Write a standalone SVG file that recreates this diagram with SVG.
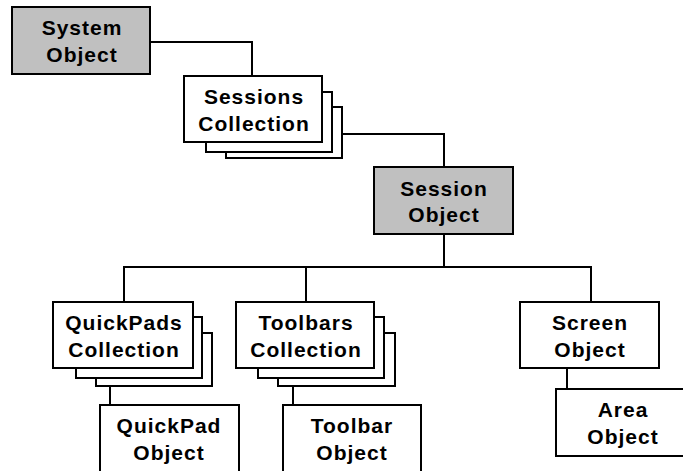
<svg xmlns="http://www.w3.org/2000/svg" width="683" height="471" viewBox="0 0 683 471">
<style>
.box{fill:#fff;stroke:#000;stroke-width:2}
.obj{fill:#c0c0c0;stroke:#000;stroke-width:2}
.conn{fill:none;stroke:#000;stroke-width:2}
text{font-family:"Liberation Sans",Arial,sans-serif;font-weight:bold;font-size:21px;letter-spacing:1px;text-anchor:middle;fill:#000}
</style>
<rect width="683" height="471" fill="#fff"/>
<g id="connectors">
<polyline class="conn" points="150,42 252,42 252,76"/>
<polyline class="conn" points="342,134 444,134 444,167"/>
<line class="conn" x1="444" y1="234" x2="444" y2="267"/>
<polyline class="conn" points="124,302 124,267 591,267 591,302"/>
<line class="conn" x1="306" y1="267" x2="306" y2="302"/>
<line class="conn" x1="110" y1="386" x2="110" y2="405"/>
<line class="conn" x1="293" y1="386" x2="293" y2="405"/>
<line class="conn" x1="567" y1="368" x2="567" y2="389"/>
</g>
<g id="system-object">
<rect class="obj" x="12" y="7" width="138" height="67"/>
<text x="82" y="35">System</text>
<text x="82" y="62">Object</text>
</g>
<g id="sessions-collection">
<rect class="box" x="226" y="107" width="116" height="51"/>
<rect class="box" x="206" y="92" width="126" height="60"/>
<rect class="box" x="184" y="76" width="138" height="66"/>
<text x="254" y="104">Sessions</text>
<text x="254" y="131">Collection</text>
</g>
<g id="session-object">
<rect class="obj" x="374" y="167" width="139" height="67"/>
<text x="444" y="196">Session</text>
<text x="444" y="222">Object</text>
</g>
<g id="quickpads-collection">
<rect class="box" x="96" y="333" width="116" height="53"/>
<rect class="box" x="76" y="317" width="126" height="61"/>
<rect class="box" x="53" y="302" width="140" height="66"/>
<text x="124" y="330">QuickPads</text>
<text x="124" y="357">Collection</text>
</g>
<g id="toolbars-collection">
<rect class="box" x="278" y="333" width="117" height="53"/>
<rect class="box" x="258" y="317" width="126" height="61"/>
<rect class="box" x="236" y="302" width="138" height="66"/>
<text x="306" y="330">Toolbars</text>
<text x="306" y="357">Collection</text>
</g>
<g id="screen-object">
<rect class="box" x="520" y="302" width="139" height="66"/>
<text x="590" y="330">Screen</text>
<text x="590" y="357">Object</text>
</g>
<g id="quickpad-object">
<rect class="box" x="100" y="405" width="139" height="80"/>
<text x="169" y="433">QuickPad</text>
<text x="169" y="460">Object</text>
</g>
<g id="toolbar-object">
<rect class="box" x="283" y="405" width="138" height="80"/>
<text x="352" y="433">Toolbar</text>
<text x="352" y="460">Object</text>
</g>
<g id="area-object">
<rect class="box" x="556" y="389" width="134" height="67"/>
<text x="623" y="417">Area</text>
<text x="623" y="444">Object</text>
</g>
</svg>
